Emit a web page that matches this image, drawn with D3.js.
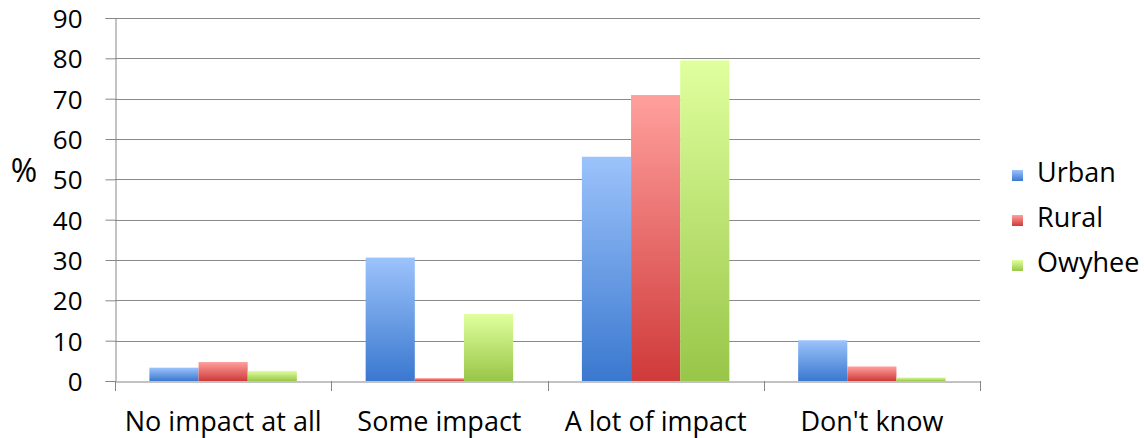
<!DOCTYPE html>
<html><head><meta charset="utf-8">
<script src="https://cdn.jsdelivr.net/npm/d3@7"></script>
<style>body{margin:0;background:#fff}svg{display:block}text{font-family:"Open Sans",sans-serif;fill:#000}</style>
</head><body><svg id="c" width="1144" height="438"></svg>
<script>
const categories = ["No impact at all","Some impact","A lot of impact","Don't know"];
const seriesNames = ["Urban","Rural","Owyhee"];
const urban  = [3.3, 30.6, 55.6, 10.1];
const rural  = [4.7, 0.7, 70.9, 3.6];
const owyhee = [2.5, 16.6, 79.5, 0.9];
const yTicks = [0,10,20,30,40,50,60,70,80,90];
const values = [urban, rural, owyhee];
const colors = [["#9cc3fb","#3a78cf"],["#ffa09d","#cf3a3a"],["#e0ff9e","#98c648"]];

const svg = d3.select("#c");
const L=115, R=980, T=18, B=381;
const x = d3.scaleBand().domain(categories).range([L,R]).paddingInner(0).paddingOuter(0);
const xs = d3.scaleBand().domain(seriesNames).range([0,x.bandwidth()]).paddingInner(0).paddingOuter(0.7);
const y = d3.scaleLinear().domain([0,90]).range([B,T]);

const defs = svg.append("defs");
colors.forEach((c,i)=>{
  const g = defs.append("linearGradient").attr("id","g"+i).attr("x1",0).attr("y1",0).attr("x2",0).attr("y2",1);
  g.append("stop").attr("offset","0%").attr("stop-color",c[0]);
  g.append("stop").attr("offset","100%").attr("stop-color",c[1]);
});

// gridlines
svg.append("g").selectAll("line").data(yTicks.filter(d=>d>0)).join("line")
  .attr("x1",L).attr("x2",R).attr("y1",d=>Math.round(y(d))+0.5).attr("y2",d=>Math.round(y(d))+0.5)
  .attr("stroke","#8a8a8a").attr("stroke-width",1);

// bars
seriesNames.forEach((s,i)=>{
  svg.append("g").selectAll("rect").data(values[i]).join("rect")
    .attr("x",(d,j)=>x(categories[j])+xs(s))
    .attr("width",xs.bandwidth())
    .attr("y",d=>y(d)).attr("height",d=>y(0)-y(d))
    .attr("fill","url(#g"+i+")");
});

// y axis
const ya = svg.append("g").attr("transform",`translate(${L+0.5},0)`)
  .call(d3.axisLeft(y).tickValues(yTicks).tickSize(10).tickPadding(23));
ya.select(".domain").attr("stroke","#868686");
ya.selectAll(".tick line").attr("stroke","#868686");
ya.selectAll(".tick text").style("font-size","26px").attr("dy","0.36em");

// x axis
const xa = svg.append("g").attr("transform",`translate(0,${B+0.5})`)
  .call(d3.axisBottom(x).tickSize(0).tickPadding(30));
xa.select(".domain").attr("stroke","#868686");
xa.selectAll(".tick text").style("font-size","27px").attr("dy","0.71em");
svg.append("g").selectAll("line").data(categories.concat([null])).join("line")
  .attr("x1",(d,i)=>Math.round(i<categories.length?x(d):R)+0.5)
  .attr("x2",(d,i)=>Math.round(i<categories.length?x(d):R)+0.5)
  .attr("y1",B).attr("y2",B+10).attr("stroke","#868686");

// % label
svg.append("text").attr("x",24).attr("y",182).attr("text-anchor","middle").style("font-size","32px").text("%");

// legend
const lg = svg.append("g").attr("transform","translate(1012,0)");
seriesNames.forEach((s,i)=>{
  const cy = 175 + i*45;
  lg.append("rect").attr("x",0).attr("y",cy-5).attr("width",11).attr("height",11).attr("fill","url(#g"+i+")");
  lg.append("text").attr("x",25).attr("y",cy+7).style("font-size","27px").text(s);
});
</script></body></html>
